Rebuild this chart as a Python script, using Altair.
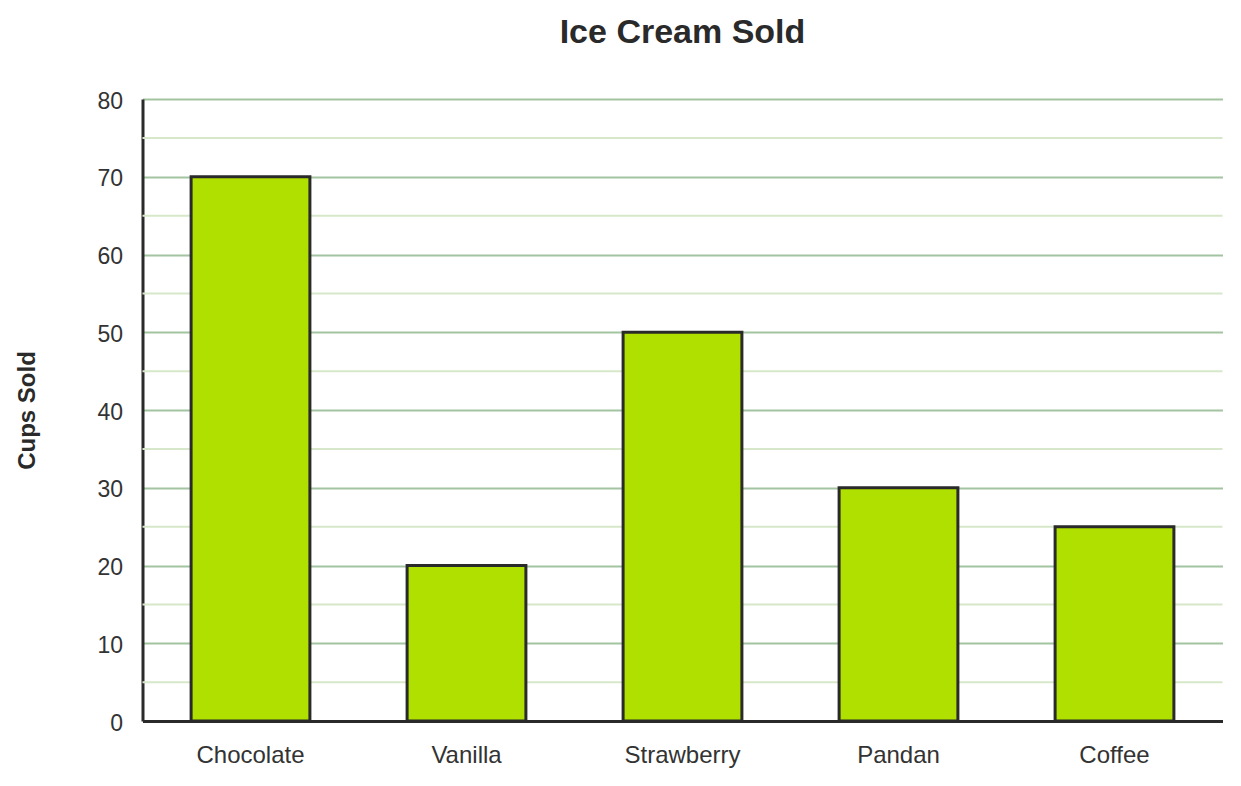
import altair as alt
import pandas as pd

flavors = ["Chocolate", "Vanilla", "Strawberry", "Pandan", "Coffee"]
cups = [70, 20, 50, 30, 25]
major_ticks = [0, 10, 20, 30, 40, 50, 60, 70, 80]
minor_ticks = [5, 15, 25, 35, 45, 55, 65, 75]

df = pd.DataFrame({"Flavor": flavors, "Cups": cups})
minor_df = pd.DataFrame({"v": minor_ticks})

FONT = "Liberation Sans"

x_enc = alt.X(
    "Flavor:N",
    sort=flavors,
    scale=alt.Scale(paddingInner=0.45, paddingOuter=0.225),
    axis=alt.Axis(
        title=None, labelAngle=0, ticks=False, grid=False,
        domainColor="#2a2a2a", domainWidth=3,
        labelFont=FONT, labelFontSize=24, labelColor="#333333",
        labelPadding=22,
    ),
)

y_scale = alt.Scale(domain=[0, 80], nice=False)

y_axis = alt.Axis(
    title="Cups Sold", values=major_ticks, ticks=False,
    grid=True, gridColor="#a3c4a0", gridWidth=2,
    domainColor="#2a2a2a", domainWidth=3,
    labelFont=FONT, labelFontSize=23, labelColor="#333333",
    labelPadding=20, labelOffset=2,
    titleFont=FONT, titleFontSize=24, titleFontWeight="bold",
    titleColor="#2a2a2a", titleX=-115.5, titleY=311,
    titleBaseline="middle", titleAngle=270,
)

minor = alt.Chart(minor_df).mark_rule(color="#d6e8c9", strokeWidth=2).encode(
    y=alt.Y("v:Q", scale=y_scale, axis=y_axis, title="Cups Sold")
)

bars = alt.Chart(df).mark_bar(
    color="#b0e000", stroke="#2a2a2a", strokeWidth=3
).encode(
    x=x_enc,
    y=alt.Y("Cups:Q", scale=y_scale, axis=y_axis, title="Cups Sold"),
)

chart = alt.layer(minor, bars).properties(
    width=1080,
    height=622,
    title=alt.TitleParams(
        "Ice Cream Sold", font=FONT, fontSize=34, fontWeight="bold",
        color="#2a2a2a", anchor="middle", baseline="alphabetic", offset=13,
    ),
    autosize=alt.AutoSizeParams(type="none"),
    padding={"left": 134.5, "top": 91, "right": 10, "bottom": 60},
).configure_view(stroke=None)

chart.save("out.html", embed_options={"renderer": "svg", "actions": False})
